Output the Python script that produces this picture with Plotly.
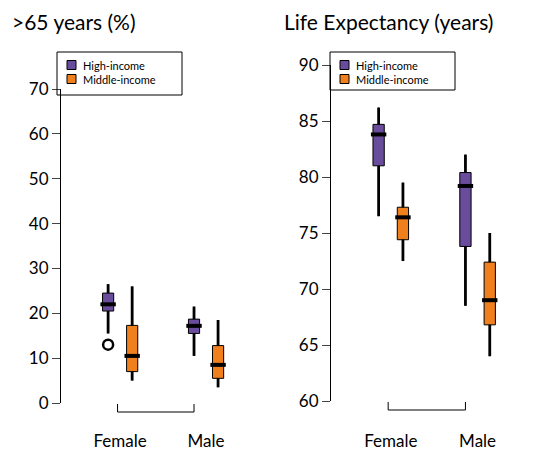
import plotly.graph_objects as go

W, H = 547, 452
sexes = ["Female", "Male"]
groups = ["High-income", "Middle-income"]
colors = {"High-income": "#6a4c9c", "Middle-income": "#f07f1e"}

# >65 years (%): [low, q1, median, q3, high] per group per sex
old_high = {"Female": [15.5, 20.5, 22.0, 24.5, 26.5], "Male": [10.5, 15.5, 17.2, 18.7, 21.5]}
old_mid = {"Female": [5.0, 7.0, 10.5, 17.3, 26.0], "Male": [3.5, 5.5, 8.5, 12.8, 18.5]}
old_outliers_high_female = [13.0]
# Life expectancy
le_high = {"Female": [76.5, 81.0, 83.8, 84.7, 86.2], "Male": [68.5, 73.8, 79.2, 80.4, 82.0]}
le_mid = {"Female": [72.5, 74.4, 76.4, 77.3, 79.5], "Male": [64.0, 66.8, 69.0, 72.4, 75.0]}

left_ticks = [0, 10, 20, 30, 40, 50, 60, 70]
right_ticks = [60, 65, 70, 75, 80, 85, 90]

def px(x): return x / W
def py(y): return 1 - y / H

fig = go.Figure()
FONT = "Lato"
off = 0.14
for panel, (hi, mi, xa, ya) in enumerate([(old_high, old_mid, "x", "y"), (le_high, le_mid, "x2", "y2")]):
    for g, data, o in [("High-income", hi, -off), ("Middle-income", mi, off)]:
        xs = [i + 1 + o for i in range(2)]
        st = [data[s] for s in sexes]
        # thick whiskers via error bars from box edges
        fig.add_trace(go.Scatter(x=xs, y=[v[3] for v in st], mode="markers", marker=dict(size=0.1, color="black"),
            error_y=dict(type="data", symmetric=False, array=[v[4] - v[3] for v in st],
                         arrayminus=[0, 0], width=0, thickness=2.8, color="black"),
            xaxis=xa, yaxis=ya, showlegend=False, hoverinfo="skip"))
        fig.add_trace(go.Scatter(x=xs, y=[v[1] for v in st], mode="markers", marker=dict(size=0.1, color="black"),
            error_y=dict(type="data", symmetric=False, array=[0, 0],
                         arrayminus=[v[1] - v[0] for v in st], width=0, thickness=2.8, color="black"),
            xaxis=xa, yaxis=ya, showlegend=False, hoverinfo="skip"))
        fig.add_trace(go.Box(
            x=xs, lowerfence=[v[0] for v in st], q1=[v[1] for v in st], median=[v[2] for v in st],
            q3=[v[3] for v in st], upperfence=[v[4] for v in st], width=0.13,
            fillcolor=colors[g], line=dict(color="black", width=1), whiskerwidth=0,
            xaxis=xa, yaxis=ya, showlegend=False, boxpoints=False, hoverinfo="skip"))
        fig.add_trace(go.Scatter(x=xs, y=[v[2] for v in st], mode="markers",
            marker=dict(symbol="line-ew", size=11, line=dict(color="black", width=4)),
            xaxis=xa, yaxis=ya, showlegend=False, hoverinfo="skip"))
fig.add_trace(go.Scatter(x=[1 - off] * len(old_outliers_high_female), y=old_outliers_high_female,
    mode="markers", marker=dict(symbol="circle-open", size=10, color="black", line=dict(width=2.5)),
    showlegend=False, xaxis="x", yaxis="y", hoverinfo="skip"))

tickfont = dict(family=FONT, size=17, color="black")
axx = dict(range=[0.3, 2.5], showgrid=False, zeroline=False, showline=False,
           tickvals=[1, 2], ticktext=sexes, ticks="", tickfont=tickfont)
fig.update_layout(
    width=W, height=H, margin=dict(l=0, r=0, t=0, b=0, autoexpand=False),
    plot_bgcolor="white", paper_bgcolor="white",
    xaxis=dict(domain=[px(60), px(249)], anchor="free", position=py(429), **axx),
    xaxis2=dict(domain=[px(330), px(521)], anchor="free", position=py(429), **axx),
    yaxis=dict(domain=[py(403), py(89)], range=[0, 70], tickvals=left_ticks, showgrid=False,
               zeroline=False, showline=True, linecolor="black", ticks="outside", ticklen=8,
               tickfont=tickfont, anchor="free", position=px(60)),
    yaxis2=dict(domain=[py(401), py(65)], range=[60, 90], tickvals=right_ticks, showgrid=False,
                zeroline=False, showline=True, linecolor="black", ticks="outside", ticklen=8,
                tickfont=tickfont, anchor="free", position=px(330)),
)
shapes, ann = [], []
for xa, yb in [("x", 412), ("x2", 410)]:
    a, b = 1 - 0.03, 2 - off
    for x0, y0, x1, y1 in [(a, yb, b, yb), (a, yb, a, yb - 8), (b, yb, b, yb - 8)]:
        shapes.append(dict(type="line", xref=xa, yref="paper", x0=x0, x1=x1,
                           y0=py(y0), y1=py(y1), line=dict(color="black", width=1)))
ann.append(dict(text=">65 years (%)", x=px(10), y=py(22), xref="paper", yref="paper",
                xanchor="left", yanchor="middle", showarrow=False, font=dict(family=FONT, size=21, color="black")))
ann.append(dict(text="Life Expectancy (years)", x=px(282), y=py(22), xref="paper", yref="paper",
                xanchor="left", yanchor="middle", showarrow=False, font=dict(family=FONT, size=21, color="black")))
for lx, ly, lw, lh in [(57, 52, 125, 43), (330, 52, 125, 38)]:
    shapes.append(dict(type="rect", xref="paper", yref="paper", x0=px(lx), x1=px(lx + lw),
                       y0=py(ly), y1=py(ly + lh), line=dict(color="black", width=1)))
    for k, g in enumerate(groups):
        cy = ly + 13 + k * 14
        shapes.append(dict(type="rect", xref="paper", yref="paper", x0=px(lx + 10), x1=px(lx + 19),
                           y0=py(cy - 4.5), y1=py(cy + 4.5), fillcolor=colors[g], line=dict(color="black", width=1)))
        ann.append(dict(text=g, x=px(lx + 24), y=py(cy), xref="paper", yref="paper", xanchor="left",
                        yanchor="middle", showarrow=False, font=dict(family=FONT, size=11, color="black")))
fig.update_layout(shapes=shapes, annotations=ann)
fig.write_html("out.html", config={"displayModeBar": False},
               post_script="document.body.style.margin='0';document.body.style.overflow='hidden';")
